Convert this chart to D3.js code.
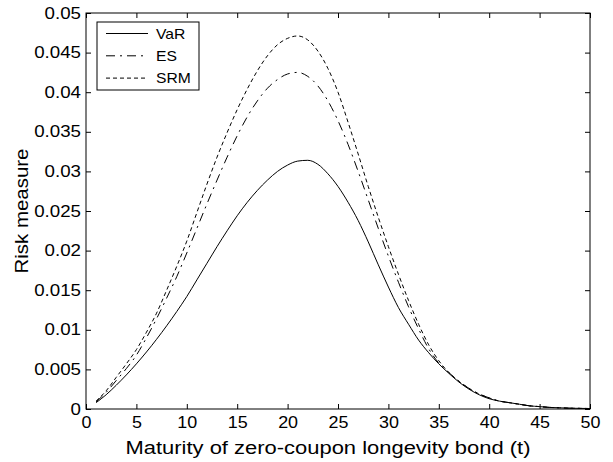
<!DOCTYPE html>
<html>
<head>
<meta charset="utf-8">
<script src="https://cdn.jsdelivr.net/npm/d3@7"></script>
<style>
  body { margin: 0; background: #fff; }
  text { font-family: "Liberation Sans", Arial, sans-serif; fill: #000; }
  .tick text { transform-box: fill-box; }
  .yax .tick text { transform: scaleX(1.17); transform-origin: right center; }
  .xax .tick text { transform: scaleX(1.12); transform-origin: center; }
</style>
</head>
<body>
<svg id="chart"></svg>
<script>
const maturity = [1, 2, 3, 4, 5, 6, 7, 8, 9, 10, 11, 12, 13, 14, 15, 16, 17, 18, 19, 20,
  21, 22, 23, 24, 25, 26, 27, 28, 29, 30, 31, 32, 33, 34, 35, 36, 37, 38, 39, 40,
  41, 42, 43, 44, 45, 46, 47, 48, 49, 50];

const varValues = [0.0008, 0.0018, 0.0030, 0.0043, 0.0057, 0.0072, 0.0088, 0.0105, 0.0123, 0.0142,
  0.0163, 0.0184, 0.0205, 0.0225, 0.0244, 0.0261, 0.0276, 0.0289, 0.0300, 0.0308,
  0.0313, 0.0314, 0.0309, 0.0297, 0.0281, 0.0261, 0.0238, 0.0211, 0.0182, 0.0154,
  0.0128, 0.0107, 0.0087, 0.0071, 0.0057, 0.0045, 0.0034, 0.0025, 0.0018, 0.0013,
  0.0010, 0.0008, 0.0006, 0.0004, 0.0003, 0.0002, 0.00015, 0.0001, 0.00008, 0.00006];

const esValues = [0.0009, 0.0021, 0.0036, 0.0051, 0.0068, 0.0090, 0.0114, 0.0140, 0.0167, 0.0197,
  0.0228, 0.0259, 0.0289, 0.0318, 0.0345, 0.0369, 0.0389, 0.0405, 0.0416, 0.0423,
  0.0425, 0.0420, 0.0408, 0.0389, 0.0364, 0.0334, 0.0300, 0.0264, 0.0228, 0.0193,
  0.0160, 0.0129, 0.0101, 0.0076, 0.0058, 0.0046, 0.0035, 0.0026, 0.0019, 0.0014,
  0.0010, 0.0008, 0.0006, 0.0004, 0.0003, 0.0002, 0.00015, 0.0001, 0.00008, 0.00006];

const srmValues = [0.0010, 0.0023, 0.0040, 0.0057, 0.0075, 0.0097, 0.0121, 0.0150, 0.0180, 0.0212,
  0.0248, 0.0284, 0.0318, 0.0349, 0.0378, 0.0404, 0.0427, 0.0446, 0.0460, 0.0468,
  0.0471, 0.0466, 0.0452, 0.0430, 0.0400, 0.0362, 0.0322, 0.0281, 0.0242, 0.0205,
  0.0170, 0.0137, 0.0107, 0.0081, 0.0061, 0.0046, 0.0035, 0.0026, 0.0019, 0.0014,
  0.0010, 0.0008, 0.0006, 0.0004, 0.0003, 0.0002, 0.00015, 0.0001, 0.00008, 0.00006];

const seriesNames = ["VaR", "ES", "SRM"];
const xTicks = [0, 5, 10, 15, 20, 25, 30, 35, 40, 45, 50];
const yTicks = [0, 0.005, 0.01, 0.015, 0.02, 0.025, 0.03, 0.035, 0.04, 0.045, 0.05];

const width = 613;
const height = 462;
const margin = { top: 13, right: 23, bottom: 53, left: 86 };

const dashes = { VaR: null, ES: "9,5,2,5", SRM: "4,3" };

const svg = d3.select("#chart")
  .attr("width", width)
  .attr("height", height);

const x = d3.scaleLinear()
  .domain([0, 50])
  .range([margin.left, width - margin.right]);

const y = d3.scaleLinear()
  .domain([0, 0.05])
  .range([height - margin.bottom, margin.top]);

const series = [
  { name: "VaR", values: varValues },
  { name: "ES", values: esValues },
  { name: "SRM", values: srmValues },
];

const line = d3.line()
  .x((d, i) => x(maturity[i]))
  .y((d) => y(d))
  .curve(d3.curveMonotoneX);

svg.selectAll("path.series")
  .data(series)
  .join("path")
  .attr("class", "series")
  .attr("d", (d) => line(d.values))
  .attr("fill", "none")
  .attr("stroke", "#000")
  .attr("stroke-width", 1)
  .attr("stroke-dasharray", (d) => dashes[d.name]);

// axes, ticks pointing inward on all four sides
const fmt = (d) => (d === 0 ? "0" : String(+d.toFixed(3)));

svg.append("g")
  .attr("class", "xax")
  .attr("transform", `translate(0,${height - margin.bottom})`)
  .call(d3.axisBottom(x).tickValues(xTicks).tickSizeInner(-5).tickSizeOuter(0).tickPadding(8))
  .call((g) => g.select(".domain").remove())
  .selectAll("text")
  .attr("font-size", 16)
  .attr("font-family", null);

svg.append("g")
  .attr("class", "yax")
  .attr("transform", `translate(${margin.left},0)`)
  .call(d3.axisLeft(y).tickValues(yTicks).tickFormat(fmt).tickSizeInner(-5).tickSizeOuter(0).tickPadding(5))
  .call((g) => g.select(".domain").remove())
  .selectAll("text")
  .attr("font-size", 16)
  .attr("font-family", null);

svg.append("g")
  .attr("transform", `translate(0,${margin.top})`)
  .call(d3.axisTop(x).tickValues(xTicks).tickSizeInner(-5).tickSizeOuter(0).tickFormat(""))
  .call((g) => g.select(".domain").remove());

svg.append("g")
  .attr("transform", `translate(${width - margin.right},0)`)
  .call(d3.axisRight(y).tickValues(yTicks).tickSizeInner(-5).tickSizeOuter(0).tickFormat(""))
  .call((g) => g.select(".domain").remove());

svg.selectAll(".tick line").attr("stroke", "#000");

svg.append("rect")
  .attr("x", margin.left)
  .attr("y", margin.top)
  .attr("width", width - margin.left - margin.right)
  .attr("height", height - margin.top - margin.bottom)
  .attr("fill", "none")
  .attr("stroke", "#000")
  .attr("stroke-width", 1);

// axis titles
svg.append("text")
  .attr("x", 328)
  .attr("y", 454)
  .attr("text-anchor", "middle")
  .attr("font-size", 17.5)
  .attr("textLength", 405)
  .attr("lengthAdjust", "spacingAndGlyphs")
  .text("Maturity of zero-coupon longevity bond (t)");

svg.append("text")
  .attr("transform", "translate(28,211) rotate(-90)")
  .attr("text-anchor", "middle")
  .attr("font-size", 17.5)
  .attr("textLength", 125)
  .attr("lengthAdjust", "spacingAndGlyphs")
  .text("Risk measure");

// legend
const legend = svg.append("g").attr("transform", "translate(97,22)");

legend.append("rect")
  .attr("width", 102)
  .attr("height", 68)
  .attr("fill", "#fff")
  .attr("stroke", "#000")
  .attr("stroke-width", 1);

const item = legend.selectAll("g.item")
  .data(seriesNames)
  .join("g")
  .attr("class", "item")
  .attr("transform", (d, i) => `translate(0,${11.5 + i * 22.3})`);

item.append("line")
  .attr("x1", 9)
  .attr("x2", 51)
  .attr("stroke", "#000")
  .attr("stroke-width", 1)
  .attr("stroke-dasharray", (d) => dashes[d]);

item.append("text")
  .attr("x", 59)
  .attr("dy", "0.36em")
  .attr("font-size", 14)
  .style("transform-box", "fill-box")
  .style("transform-origin", "left center")
  .style("transform", "scaleX(1.12)")
  .text((d) => d);
</script>
</body>
</html>
